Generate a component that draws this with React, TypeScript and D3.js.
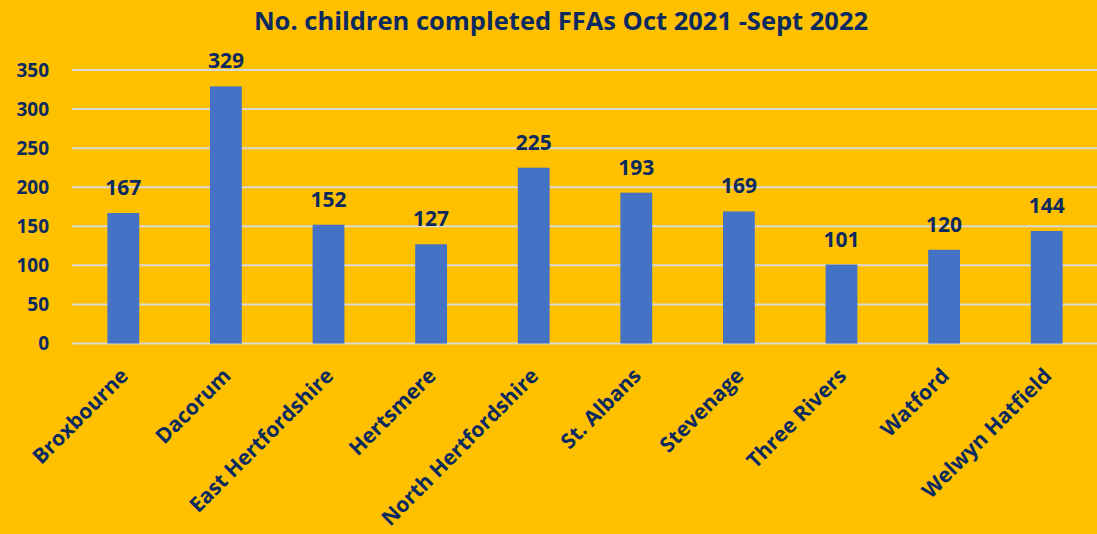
import React from "react";
import * as d3 from "d3";

const categories = ["Broxbourne", "Dacorum", "East Hertfordshire", "Hertsmere", "North Hertfordshire", "St. Albans", "Stevenage", "Three Rivers", "Watford", "Welwyn Hatfield"];
const values = [167, 329, 152, 127, 225, 193, 169, 101, 120, 144];
const yTicks = [0, 50, 100, 150, 200, 250, 300, 350];
const title = "No. children completed FFAs Oct 2021 -Sept 2022";

const W = 1097, H = 534;
const BG = "#FFC000", BAR = "#4472C4", TXT = "#0B2A60", GRID = "#D9D9D9";
const FONT = "'Open Sans', 'Noto Sans', sans-serif";

export default function App() {
  const x = d3.scaleBand<string>().domain(categories).range([72, 1098]).paddingInner(0.69).paddingOuter(0.345);
  const y = d3.scaleLinear().domain([0, 350]).range([343.5, 70]);
  return (
    <svg width={W} height={H} style={{ position: "absolute", left: 0, top: 0, background: BG }} fontFamily={FONT}>
      <rect x={0} y={0} width={W} height={H} fill={BG} />
      <text x={561} y={30} textAnchor="middle" fontSize={25.5} fontWeight="bold" fill={TXT}>{title}</text>
      {yTicks.map(t => (
        <g key={t}>
          <line x1={72} x2={W} y1={y(t)} y2={y(t)} stroke={GRID} strokeWidth={2} />
          <text x={49} y={y(t)} dy="0.35em" textAnchor="end" fontSize={19} fontWeight="bold" fill={TXT}>{t}</text>
        </g>
      ))}
      {categories.map((c, i) => {
        const cx = (x(c) as number) + x.bandwidth() / 2;
        return (
          <g key={c}>
            <rect x={x(c)} y={y(values[i])} width={x.bandwidth()} height={y(0) - y(values[i])} fill={BAR} />
            <text x={cx} y={y(values[i]) - 18} textAnchor="middle" fontSize={21} fontWeight="bold" fill={TXT}>{values[i]}</text>
            <text transform={`translate(${cx + 1},${372}) rotate(-45)`} textAnchor="end" dy="0.35em" fontSize={21} fontWeight="bold" fill={TXT}>{c}</text>
          </g>
        );
      })}
    </svg>
  );
}
